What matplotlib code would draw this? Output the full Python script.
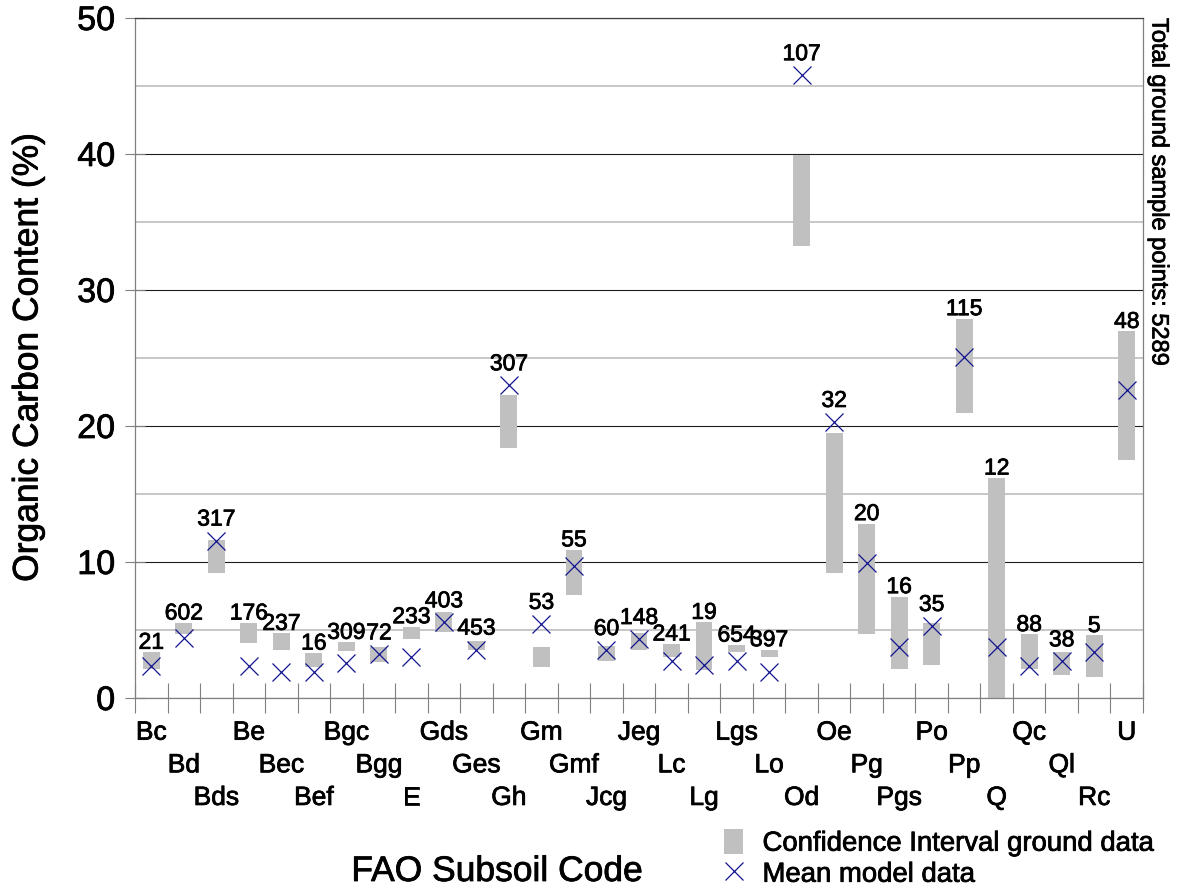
import matplotlib
matplotlib.use("Agg")
import matplotlib.pyplot as plt
from matplotlib.patches import Patch
from matplotlib.lines import Line2D
import matplotlib.patheffects as pe
import numpy as np

plt.rcParams['font.family'] = ['Liberation Sans', 'DejaVu Sans']

codes = ["Bc", "Bd", "Bds", "Be", "Bec", "Bef", "Bgc", "Bgg", "E", "Gds", "Ges",
         "Gh", "Gm", "Gmf", "Jcg", "Jeg", "Lc", "Lg", "Lgs", "Lo", "Od", "Oe",
         "Pg", "Pgs", "Po", "Pp", "Q", "Qc", "Ql", "Rc", "U"]
ci_low = [2.10, 4.71, 9.18, 4.03, 3.56, 2.26, 3.44, 2.67, 4.34, 4.84, 3.56,
          18.38, 2.26, 7.58, 2.70, 3.56, 3.00, 2.09, 3.36, 3.00, 33.2, 9.16,
          4.72, 2.14, 2.39, 20.98, 0.0, 2.12, 1.69, 1.51, 17.51]
ci_high = [3.37, 5.52, 11.63, 5.52, 4.76, 3.31, 4.10, 3.73, 5.25, 6.31, 4.17,
           22.26, 3.78, 10.90, 3.85, 4.76, 3.98, 5.57, 3.90, 3.56, 39.9, 19.5,
           12.83, 7.46, 5.53, 27.9, 16.18, 4.67, 3.41, 4.60, 26.96]
model_mean = [2.38, 4.39, 11.58, 2.38, 1.94, 1.89, 2.55, 3.21, 3.00, 5.57, 3.56,
              23.0, 5.45, 9.70, 3.53, 4.34, 2.70, 2.43, 2.75, 1.94, 45.8, 20.3,
              9.92, 3.76, 5.30, 25.1, 3.76, 2.37, 2.70, 3.39, 22.65]
n_samples = [21, 602, 317, 176, 237, 16, 309, 72, 233, 403, 453,
             307, 53, 55, 60, 148, 241, 19, 654, 397, 107, 32,
             20, 16, 35, 115, 12, 88, 38, 5, 48]
total_points = 5289
y_ticks = [0, 10, 20, 30, 40, 50]

x = np.arange(len(codes))
low = np.array(ci_low)
high = np.array(ci_high)
mean = np.array(model_mean)

heavy = [pe.withStroke(linewidth=0.55, foreground='black')]

fig = plt.figure(figsize=(11.79, 8.88), dpi=100)
ax = fig.add_axes([135/1179, 1-698/888, (1143-135)/1179, (698-18)/888])
ax.set_axisbelow(True)

ax.bar(x, high - low, bottom=low, width=0.52, color='#c0c0c0', zorder=2)
ax.plot(x, mean, linestyle='none', marker='x', markersize=12.5,
        markeredgewidth=0.9, color='#14148f', zorder=3)

# sample-count labels
for xi, lo_, hi_, m_, n_ in zip(x, low, high, mean, n_samples):
    anchor = max(hi_ + 0.25, m_ + 1.1)
    ax.text(xi, anchor, str(n_), ha='center', va='baseline', fontsize=16.5,
            zorder=4, path_effects=heavy)

ax.set_xlim(-0.5, len(codes) - 0.5)
ax.set_ylim(0, 50)
ax.set_yticks(y_ticks)
ax.set_yticks(np.arange(5, 50, 10), minor=True)
ax.tick_params(axis='y', which='major', direction='inout', length=14.5,
               width=0.8, color='#808080', labelsize=24.5, pad=7)
ax.tick_params(axis='y', which='minor', length=0)
ax.grid(axis='y', which='major', color='#1e1e1e', linewidth=0.8)
ax.grid(axis='y', which='minor', color='#b8b8b8', linewidth=1.1)
for lbl in ax.get_yticklabels():
    lbl.set_path_effects(heavy)

ax.set_xticks([])
ax.set_xticks(np.arange(-0.5, len(codes)), minor=True)
ax.tick_params(axis='x', which='minor', direction='inout', length=21.5,
               width=0.8, color='#808080', labelbottom=False)

for side in ['left', 'right', 'bottom']:
    ax.spines[side].set_color('#808080')
    ax.spines[side].set_linewidth(0.9)
ax.spines['top'].set_color('#404040')
ax.spines['top'].set_linewidth(0.9)

# staggered category labels in three rows
for i, code in enumerate(codes):
    row = i % 3
    ax.annotate(code, xy=(i, 0), xycoords=('data', 'axes fraction'),
                xytext=(0, -30 - 23.5 * row), textcoords='offset points',
                ha='center', va='baseline', fontsize=19, annotation_clip=False,
                path_effects=heavy)

fig.text(28/1179, 1-357.5/888, 'Organic Carbon Content (%)', rotation=90,
         ha='center', va='center', fontsize=25.5, path_effects=heavy)
fig.text(497/1179, 1-881/888, 'FAO Subsoil Code', ha='center', va='baseline',
         fontsize=25.5, path_effects=heavy)
fig.text(1158.5/1179, 1-18/888, f'Total ground sample points: {total_points}',
         rotation=-90, ha='center', va='top', fontsize=17, path_effects=heavy)

handles = [Patch(facecolor='#c0c0c0', edgecolor='none'),
           Line2D([], [], linestyle='none', marker='x', markersize=12.5,
                  markeredgewidth=0.9, color='#14148f')]
leg = fig.legend(handles, ['Confidence Interval ground data', 'Mean model data'],
                 loc='upper left', bbox_to_anchor=(724/1179, 1-829/888),
                 frameon=False, fontsize=19.8, handlelength=0.7, handleheight=1.0,
                 handletextpad=0.7, labelspacing=0.12, borderpad=0,
                 borderaxespad=0)
for t in leg.get_texts():
    t.set_path_effects(heavy)

fig.savefig('out.png', dpi=100)
